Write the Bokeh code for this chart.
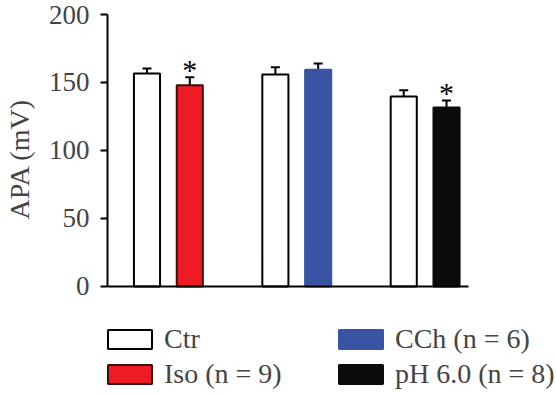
from bokeh.plotting import figure
from bokeh.layouts import column
from bokeh.models import (Range1d, Legend, LegendItem, Whisker, ColumnDataSource,
                          TeeHead, FixedTicker)
from bokeh.embed import file_html
from bokeh.resources import INLINE
from bokeh.core.properties import value

# ---- data ----
conditions = ["Ctr", "Iso", "Ctr", "CCh", "Ctr", "pH 6.0"]
means = [156.6, 148.0, 155.9, 159.3, 139.7, 131.6]
sem = [3.7, 5.9, 5.4, 4.7, 4.6, 5.2]
colors = ["white", "#ED1C24", "white", "#3A54A4", "white", "#0B0B0B"]
outline = ["black", "#3a1010", "black", "#3A54A4", "black", "#0B0B0B"]
significant = [False, True, False, False, False, True]
legend_labels = ["Ctr", "Iso (n = 9)", "CCh (n = 6)", "pH 6.0 (n = 8)"]
legend_index = [0, 1, 3, 5]
y_ticks = [0, 50, 100, 150, 200]

FONT = "Liberation Serif"

# position from index: pairs grouped, 3 units between groups
xs = [3 * (i // 2) + (i % 2) for i in range(len(means))]
upper = [m + s for m, s in zip(means, sem)]

src = ColumnDataSource(dict(x=xs, top=means, upper=upper, color=colors,
                            line=outline, cond=conditions))

p = figure(frame_width=441, frame_height=317, output_backend="svg",
           toolbar_location=None,
           x_range=Range1d(-0.923, 9.383), y_range=Range1d(-22.8, 210.29),
           min_border_left=107, min_border_right=0, min_border_top=0,
           min_border_bottom=0)
p.outline_line_color = None
p.grid.visible = False
p.background_fill_color = "white"

bars = p.vbar(x="x", top="top", bottom=0, width=0.61, fill_color="color",
              line_color="line", line_width=2, source=src)

wh = Whisker(base="x", lower="top", upper="upper", source=src,
             line_color="black", line_width=2, lower_head=None,
             upper_head=TeeHead(size=9, line_width=2, line_color="black"))
p.add_layout(wh)

sig_x = [x for x, s in zip(xs, significant) if s]
sig_y = [u for u, s in zip(upper, significant) if s]
p.text(x=sig_x, y=sig_y, text=["*"] * len(sig_x), text_align="center",
       text_baseline="alphabetic", text_font=value(FONT),
       text_font_size="30px", text_color="black", y_offset=-8)

# axes
p.yaxis.ticker = FixedTicker(ticks=y_ticks)
p.yaxis.bounds = (0, 200)
p.yaxis.axis_label = "APA (mV)"
p.yaxis.axis_label_text_font = FONT
p.yaxis.axis_label_text_font_style = "normal"
p.yaxis.axis_label_text_font_size = "28px"
p.yaxis.axis_label_standoff = 11
p.yaxis.major_label_text_font = FONT
p.yaxis.major_label_text_font_size = "27px"
p.yaxis.major_label_standoff = 11
p.yaxis.major_tick_out = 7
p.yaxis.major_tick_in = 0
p.yaxis.minor_tick_out = 0
p.yaxis.minor_tick_in = 0
p.yaxis.minor_tick_line_color = None
p.yaxis.axis_line_width = 2
p.yaxis.major_tick_line_width = 2

p.xaxis.ticker = FixedTicker(ticks=[])
p.xaxis.fixed_location = 0
p.xaxis.bounds = (-0.98, 7.513)
p.xaxis.major_label_text_font_size = "0px"
p.xaxis.major_label_standoff = 0
p.xaxis.major_tick_out = 0
p.xaxis.major_tick_in = 0
p.xaxis.minor_tick_out = 0
p.xaxis.minor_tick_in = 0
p.xaxis.major_tick_line_color = None
p.xaxis.minor_tick_line_color = None
p.xaxis.axis_line_width = 2

# ---- legend strip below the chart (same data; its own bars are hidden) ----
leg = figure(frame_width=556, frame_height=76, output_backend="svg",
             toolbar_location=None, x_axis_type=None, y_axis_type=None,
             x_range=Range1d(-0.923, 9.383), y_range=Range1d(0, 1),
             min_border_left=0, min_border_right=0, min_border_top=0,
             min_border_bottom=0)
leg.outline_line_color = None
leg.grid.visible = False
ghost = leg.vbar(x="x", top="top", bottom=0, width=0.61, fill_color="color",
                 line_color="line", line_width=2, source=src)
ghost.visible = False

items = [LegendItem(label=l, renderers=[ghost], index=i)
         for l, i in zip(legend_labels, legend_index)]
legend = Legend(items=items, ncols=2, location=(102, 3),
                glyph_width=55, glyph_height=24, label_standoff=7,
                label_width=166, label_height=32, spacing=3, padding=0,
                margin=0, border_line_color=None, background_fill_alpha=0,
                inactive_fill_alpha=0,
                label_text_font=FONT, label_text_font_size="28px",
                label_text_baseline="middle")
leg.add_layout(legend, "center")

layout = column(p, leg, spacing=0)
open("out.html", "w").write(file_html(layout, INLINE))
